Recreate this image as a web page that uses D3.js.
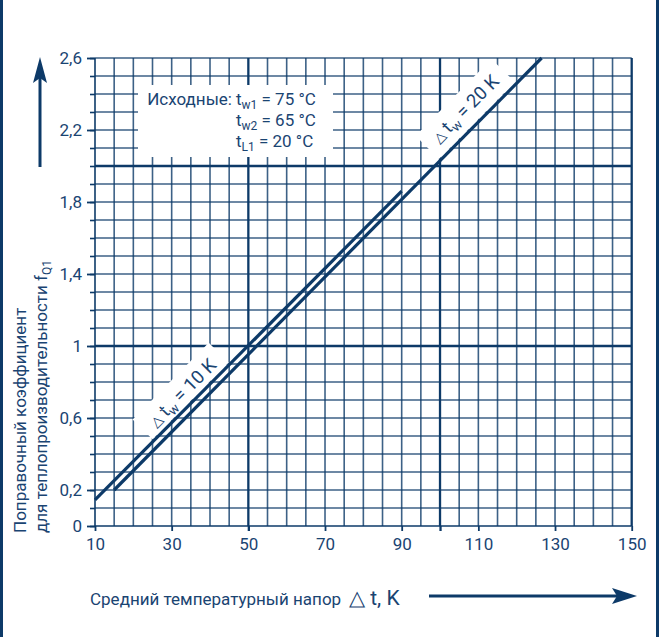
<!DOCTYPE html>
<html>
<head>
<meta charset="utf-8">
<script src="https://cdn.jsdelivr.net/npm/d3@7"></script>
<style>
  body { margin: 0; background: #fff; }
  text { font-family: Roboto, "Noto Sans", sans-serif; fill: #1a4472; }
</style>
</head>
<body>
<script>
// Chart data
var xTicks = [10, 30, 50, 70, 90, 110, 130, 150];
var yTicks = [0, 0.2, 0.6, 1, 1.4, 1.8, 2.2, 2.6];
var xGrid = d3.range(10, 151, 5);
var yGrid = d3.range(0, 27).map(function(i) { return i / 10; });
var line10K = [[10, 0.145], [90, 1.86]];
var line20K = [[15, 0.2], [126.5, 2.6]];

var svgWidth = 662;
var svgHeight = 637;
var navy = "#0d3a68";

var svg = d3.select("body")
  .append("svg")
  .attr("width", svgWidth)
  .attr("height", svgHeight);

// scales
var x = d3.scaleLinear().domain([10, 150]).range([95, 631.7]);
var y = d3.scaleLinear().domain([0, 2.6]).range([526, 58]);

var fmt = d3.formatLocale({ decimal: ",", thousands: " ", grouping: [3], currency: ["", ""] }).format("~g");

// frame
svg.append("rect").attr("x", 0).attr("y", 0).attr("width", 3).attr("height", svgHeight).attr("fill", navy);
svg.append("rect").attr("x", 656).attr("y", 0).attr("width", 3).attr("height", svgHeight).attr("fill", navy);

// grid
var grid = svg.append("g");
grid.selectAll(".vx")
  .data(xGrid)
  .enter()
  .append("line")
  .attr("x1", function(d) { return x(d); })
  .attr("x2", function(d) { return x(d); })
  .attr("y1", y(0))
  .attr("y2", y(2.6))
  .attr("stroke", navy)
  .attr("stroke-opacity", function(d) { return d % 50 === 0 || d === 10 || d === 150 ? 1 : 0.8; })
  .attr("stroke-width", function(d) { return d % 50 === 0 ? 2.3 : 1.6; });

grid.selectAll(".hy")
  .data(yGrid)
  .enter()
  .append("line")
  .attr("x1", x(10))
  .attr("x2", x(150))
  .attr("y1", function(d) { return y(d); })
  .attr("y2", function(d) { return y(d); })
  .attr("stroke", navy)
  .attr("stroke-opacity", function(d) { return Math.abs(d - Math.round(d)) < 1e-6 ? 1 : 0.8; })
  .attr("stroke-width", function(d) { return Math.abs(d - Math.round(d)) < 1e-6 && d > 0 ? 2.3 : 1.6; });

// axes
var minorY = svg.append("g")
  .attr("transform", "translate(" + x(10) + ",0)")
  .call(d3.axisLeft(y).tickValues(yGrid).tickSize(5).tickFormat(""));
minorY.select(".domain").remove();
minorY.selectAll("line").attr("stroke", navy).attr("stroke-width", 1.6);

var leftAxis = svg.append("g")
  .attr("transform", "translate(" + x(10) + ",0)")
  .call(d3.axisLeft(y).tickValues(yTicks).tickSize(8).tickPadding(5).tickFormat(fmt));
leftAxis.select(".domain").remove();
leftAxis.selectAll("line").attr("stroke", navy).attr("stroke-width", 1.8);
leftAxis.selectAll("text").attr("font-size", 17).attr("font-family", null).attr("fill", null);

var bottomAxis = svg.append("g")
  .attr("transform", "translate(0," + y(0) + ")")
  .call(d3.axisBottom(x).tickValues(xTicks.concat([100])).tickSize(5).tickPadding(7)
    .tickFormat(function(d) { return d === 100 ? "" : d; }));
bottomAxis.select(".domain").remove();
bottomAxis.selectAll("line").attr("stroke", navy)
  .attr("stroke-width", function(d) { return d === 100 || d === 50 ? 2.3 : 1.8; });
bottomAxis.selectAll("text").attr("font-size", 17).attr("font-family", null).attr("fill", null);

// legend box
svg.append("rect")
  .attr("x", 138).attr("y", 85).attr("width", 195).attr("height", 72)
  .attr("fill", "#fff");

var legendRows = [["Исходные:", "w1", " = 75 °C"], ["", "w2", " = 65 °C"], ["", "L1", " = 20 °C"]];
legendRows.forEach(function(r, i) {
  var by = 105 + i * 21;
  if (r[0]) {
    svg.append("text").attr("x", 232).attr("y", by).attr("text-anchor", "end")
      .attr("font-size", 17).text(r[0]);
  }
  var t = svg.append("text").attr("x", 236).attr("y", by).attr("font-size", 17);
  t.append("tspan").text("t");
  t.append("tspan").attr("font-size", 12).attr("dy", 4).text(r[1]);
  t.append("tspan").attr("dy", -4).text(r[2]);
});

// lines
var lineGen = d3.line()
  .x(function(d) { return x(d[0]); })
  .y(function(d) { return y(d[1]); });

// line labels with white boxes
function lineLabel(data, xv, dist, txt) {
  var p0 = data[0], p1 = data[1];
  var yv = p0[1] + (xv - p0[0]) * (p1[1] - p0[1]) / (p1[0] - p0[0]);
  var px = x(xv), py = y(yv);
  var dx = x(p1[0]) - x(p0[0]), dy = y(p1[1]) - y(p0[1]);
  var ang = Math.atan2(dy, dx) * 180 / Math.PI;
  var len = Math.sqrt(dx * dx + dy * dy);
  var nx = dy / len, ny = -dx / len;
  var cx = px + nx * dist, cy = py + ny * dist;
  var g = svg.append("g").attr("transform", "translate(" + cx + "," + cy + ") rotate(" + ang + ")");
  g.append("rect")
    .attr("x", -54).attr("y", -16).attr("width", 108).attr("height", 14 + dist)
    .attr("fill", "#fff");
  var t = g.append("text").attr("text-anchor", "middle").attr("dy", "0.36em").attr("font-size", 18.5);
  t.append("tspan").attr("font-size", 14).text("△ ");
  t.append("tspan").text("t");
  t.append("tspan").attr("font-size", 13).attr("dy", 4).text("w");
  t.append("tspan").attr("dy", -4).text(" = " + txt);
}
lineLabel(line10K, 35.3, 14, "10 K");
lineLabel(line20K, 110, 19, "20 K");

[line10K, line20K].forEach(function(data) {
  svg.append("path")
    .attr("d", lineGen(data))
    .attr("fill", "none")
    .attr("stroke", navy)
    .attr("stroke-width", 3.2);
});

// y axis title
var yTitle = svg.append("g").attr("transform", "translate(26,533) rotate(-90)");
yTitle.append("text").attr("font-size", 17).text("Поправочный коэффициент");
var yt2 = yTitle.append("text").attr("y", 21).attr("font-size", 17);
yt2.append("tspan").text("для теплопроизводительности f");
yt2.append("tspan").attr("font-size", 12).attr("dy", 4).text("Q1");

// y arrow
svg.append("line").attr("x1", 40).attr("x2", 40).attr("y1", 167).attr("y2", 76)
  .attr("stroke", navy).attr("stroke-width", 3);
svg.append("path").attr("d", "M40,57 L33,83 L40,78 L47,83 Z").attr("fill", navy);

// x axis title
svg.append("text").attr("x", 90).attr("y", 605).attr("font-size", 17)
  .text("Средний температурный напор");
svg.append("text").attr("x", 349).attr("y", 605).attr("font-size", 21)
  .text("△ t, K");

// x arrow
svg.append("line").attr("x1", 429).attr("x2", 618).attr("y1", 596).attr("y2", 596)
  .attr("stroke", navy).attr("stroke-width", 3);
svg.append("path").attr("d", "M637,596 L612,588 L617,596 L612,604 Z").attr("fill", navy);
</script>
</body>
</html>
